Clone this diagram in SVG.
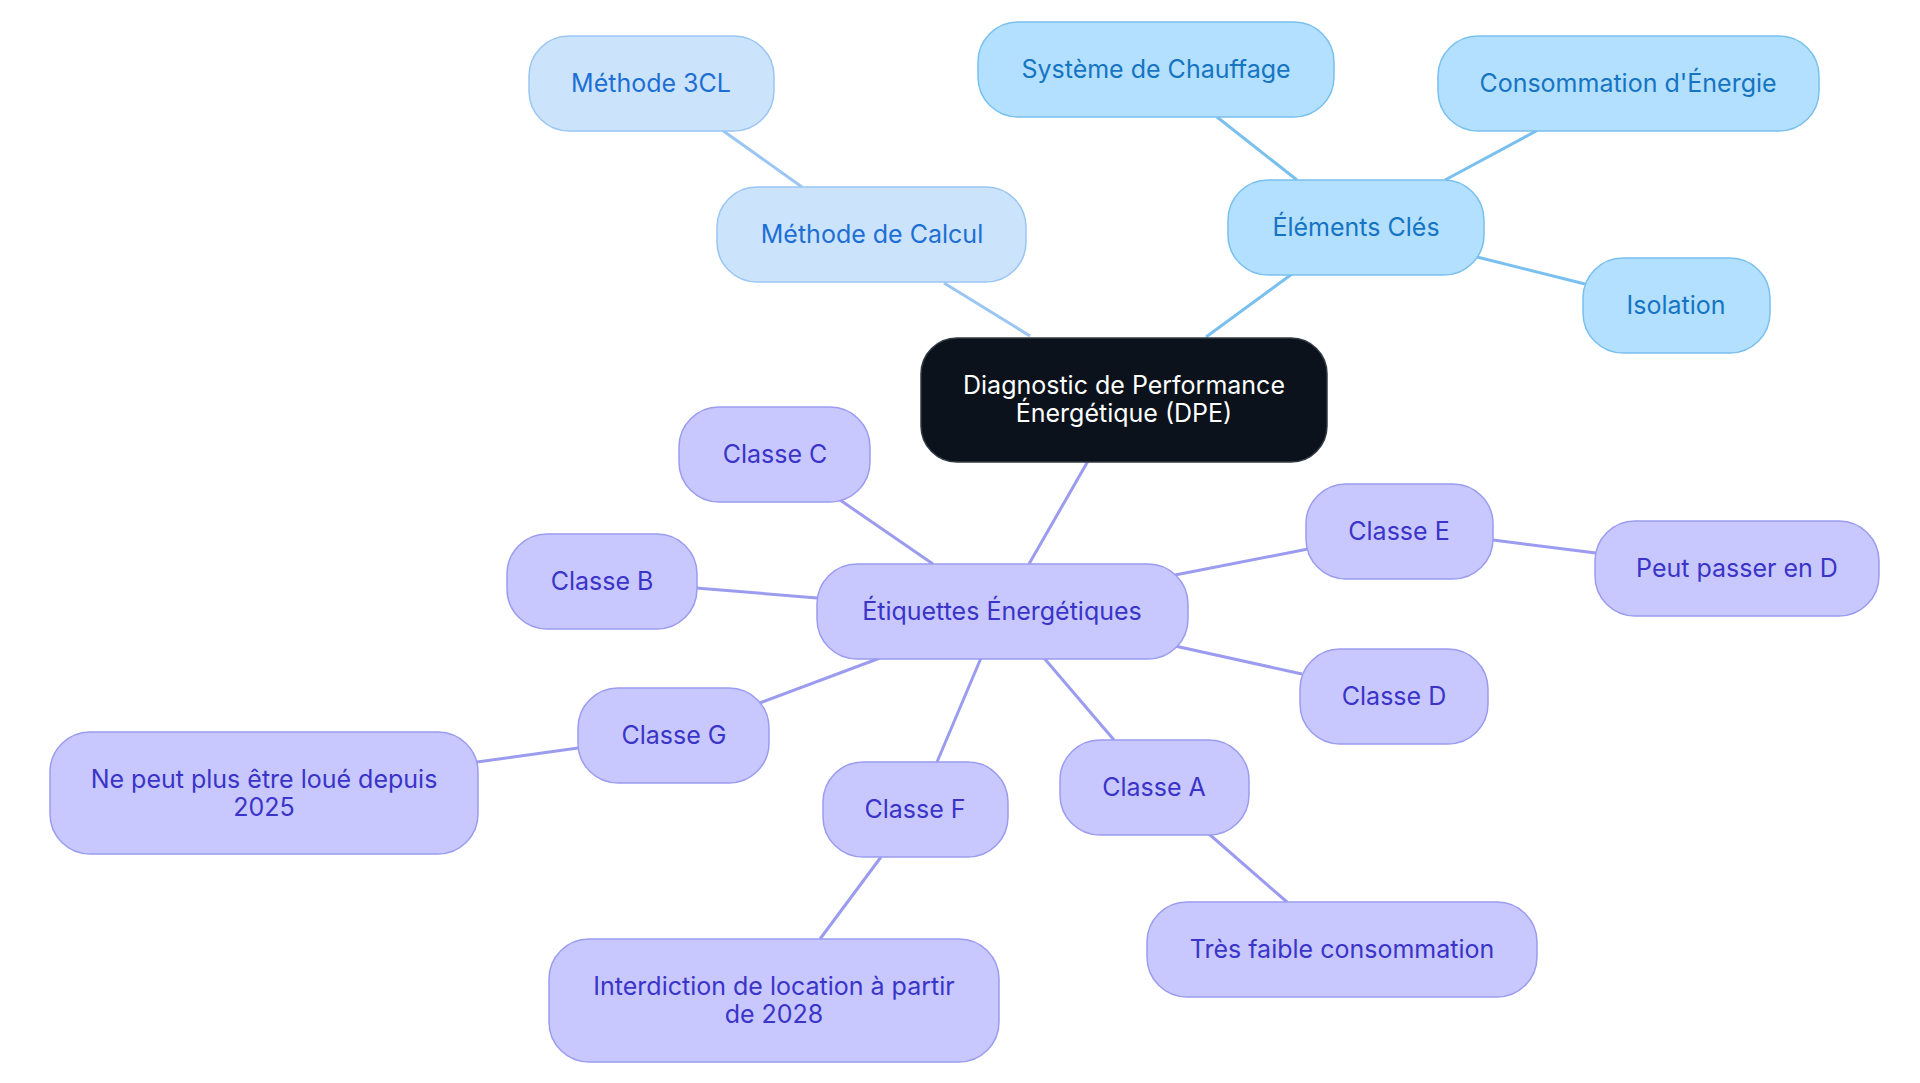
<svg xmlns="http://www.w3.org/2000/svg" width="1920" height="1083" viewBox="0 0 1920 1083">
<style>
text{font-family:Inter,"Noto Sans",sans-serif;font-size:25px;text-anchor:middle;dominant-baseline:central}
.p rect{fill:#c8c8fe;stroke:#9b9cf0;stroke-width:1.5}.p text{fill:#3a34c8}
.l rect{fill:#cce3fc;stroke:#9bc6f3;stroke-width:1.5}.l text{fill:#1d6fd4}
.c rect{fill:#b3e0fe;stroke:#7ac0ef;stroke-width:1.5}.c text{fill:#1674c2}
.r rect{fill:#0b121b;stroke:#333a44;stroke-width:1.5}.r text{fill:#fff}
#edges line{stroke-width:3}
.ep{stroke:#9b9cf0}.el{stroke:#9bc6f3}.ec{stroke:#7ac0ef}
</style>
<rect width="1920" height="1083" fill="#fff"/>
<g id="edges">
<line class="el" x1="1030" y1="336" x2="944" y2="283"/>
<line class="el" x1="802" y1="187" x2="722" y2="130"/>
<line class="ec" x1="1206" y1="337" x2="1292" y2="274"/>
<line class="ec" x1="1297" y1="180" x2="1217" y2="117"/>
<line class="ec" x1="1445" y1="180" x2="1538" y2="130"/>
<line class="ec" x1="1477" y1="257" x2="1585" y2="284"/>
<line class="ep" x1="1088" y1="461" x2="1029" y2="564"/>
<line class="ep" x1="933" y1="564" x2="840" y2="500"/>
<line class="ep" x1="817" y1="598" x2="696" y2="588"/>
<line class="ep" x1="1175" y1="575" x2="1308" y2="549"/>
<line class="ep" x1="1493" y1="540" x2="1596" y2="553"/>
<line class="ep" x1="1175" y1="646" x2="1302" y2="674"/>
<line class="ep" x1="880" y1="658" x2="757" y2="704"/>
<line class="ep" x1="578" y1="748" x2="477" y2="762"/>
<line class="ep" x1="981" y1="658" x2="937" y2="762"/>
<line class="ep" x1="881" y1="857" x2="820" y2="939"/>
<line class="ep" x1="1044" y1="658" x2="1114" y2="740"/>
<line class="ep" x1="1209" y1="834" x2="1287" y2="902"/>
</g>
<g id="root" class="r"><rect x="921" y="338" width="406" height="124" rx="36"/><text x="1124" y="385">Diagnostic de Performance</text><text x="1124" y="413">Énergétique (DPE)</text></g>
<g id="m3cl" class="l"><rect x="529" y="36" width="245" height="95" rx="40"/><text x="651" y="83">Méthode 3CL</text></g>
<g id="calcul" class="l"><rect x="717" y="187" width="309" height="95" rx="40"/><text x="872" y="234">Méthode de Calcul</text></g>
<g id="chauffage" class="c"><rect x="978" y="22" width="356" height="95" rx="40"/><text x="1156" y="69">Système de Chauffage</text></g>
<g id="conso" class="c"><rect x="1438" y="36" width="381" height="95" rx="40"/><text x="1628" y="83">Consommation d'Énergie</text></g>
<g id="elements" class="c"><rect x="1228" y="180" width="256" height="95" rx="40"/><text x="1356" y="227">Éléments Clés</text></g>
<g id="isolation" class="c"><rect x="1583" y="258" width="187" height="95" rx="40"/><text x="1676" y="305">Isolation</text></g>
<g id="etiquettes" class="p"><rect x="817" y="564" width="371" height="95" rx="40"/><text x="1002" y="611">Étiquettes Énergétiques</text></g>
<g id="classeC" class="p"><rect x="679" y="407" width="191" height="95" rx="40"/><text x="775" y="454">Classe C</text></g>
<g id="classeB" class="p"><rect x="507" y="534" width="190" height="95" rx="40"/><text x="602" y="581">Classe B</text></g>
<g id="classeE" class="p"><rect x="1306" y="484" width="187" height="95" rx="40"/><text x="1399" y="531">Classe E</text></g>
<g id="peutD" class="p"><rect x="1595" y="521" width="284" height="95" rx="40"/><text x="1737" y="568">Peut passer en D</text></g>
<g id="classeD" class="p"><rect x="1300" y="649" width="188" height="95" rx="40"/><text x="1394" y="696">Classe D</text></g>
<g id="classeG" class="p"><rect x="578" y="688" width="191" height="95" rx="40"/><text x="674" y="735">Classe G</text></g>
<g id="nePeut" class="p"><rect x="50" y="732" width="428" height="122" rx="40"/><text x="264" y="779">Ne peut plus être loué depuis</text><text x="264" y="807">2025</text></g>
<g id="classeF" class="p"><rect x="823" y="762" width="185" height="95" rx="40"/><text x="915" y="809">Classe F</text></g>
<g id="classeA" class="p"><rect x="1060" y="740" width="189" height="95" rx="40"/><text x="1154" y="787">Classe A</text></g>
<g id="tresFaible" class="p"><rect x="1147" y="902" width="390" height="95" rx="40"/><text x="1342" y="949">Très faible consommation</text></g>
<g id="interdiction" class="p"><rect x="549" y="939" width="450" height="123" rx="40"/><text x="774" y="986">Interdiction de location à partir</text><text x="774" y="1014">de 2028</text></g>
</svg>
